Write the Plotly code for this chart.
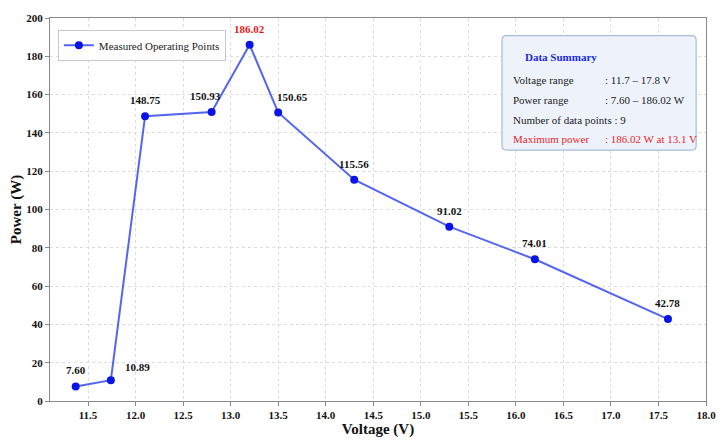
import plotly.graph_objects as go

voltage = [11.37, 11.74, 12.1, 12.8, 13.2, 13.5, 14.3, 15.3, 16.2, 17.6]
power = [7.60, 10.89, 148.75, 150.93, 186.02, 150.65, 115.56, 91.02, 74.01, 42.78]
point_labels = ["7.60", "10.89", "148.75", "150.93", "186.02", "150.65", "115.56", "91.02", "74.01", "42.78"]
x_ticks = [11.5, 12.0, 12.5, 13.0, 13.5, 14.0, 14.5, 15.0, 15.5, 16.0, 16.5, 17.0, 17.5, 18.0]
y_ticks = [0, 20, 40, 60, 80, 100, 120, 140, 160, 180, 200]
summary_labels = ["Voltage range", "Power range", "Number of data points : 9", "Maximum power"]
summary_values = [": 11.7 \u2013 17.8 V", ": 7.60 \u2013 186.02 W", "", ": 186.02 W at 13.1 V"]

FONT = "Liberation Serif"
fig = go.Figure()
fig.add_trace(go.Scatter(
    x=voltage, y=power, mode="lines+markers",
    name="Measured Operating Points",
    line=dict(color="#5566ee", width=2),
    marker=dict(color="#0a14e6", size=8),
))

max_idx = power.index(max(power))
label_shift = {1: (27, -3), 5: (14, 0), 3: (-6, 0)}
for i, (xv, yv, t) in enumerate(zip(voltage, power, point_labels)):
    dx, dy = label_shift.get(i, (0, 0))
    fig.add_annotation(
        x=xv, y=yv, text="<b>%s</b>" % t, showarrow=False,
        yshift=16 + dy, xshift=dx,
        font=dict(family=FONT, size=11, color="#e8171b" if i == max_idx else "#111111"),
    )

# summary box (rounded rectangle)
x0, x1, y0, y1 = 0.689, 0.985, 0.655, 0.954
rx, ry = 0.007, 0.012
path = (f"M {x0+rx},{y0} L {x1-rx},{y0} Q {x1},{y0} {x1},{y0+ry} "
        f"L {x1},{y1-ry} Q {x1},{y1} {x1-rx},{y1} L {x0+rx},{y1} Q {x0},{y1} {x0},{y1-ry} "
        f"L {x0},{y0+ry} Q {x0},{y0} {x0+rx},{y0} Z")
fig.add_shape(type="path", xref="paper", yref="paper", path=path,
              fillcolor="#eef3fb", line=dict(color="#a8bcd8", width=1.2), layer="above")
fig.add_annotation(xref="paper", yref="paper", x=0.837, y=0.919, text="<b>Data Summary</b>",
                   showarrow=False, font=dict(family=FONT, size=11, color="#1a2bdc"))
row_y = [0.859, 0.807, 0.755, 0.705]
for i, (lab, val) in enumerate(zip(summary_labels, summary_values)):
    col = "#e8252a" if i == 3 else "#222222"
    fig.add_annotation(xref="paper", yref="paper", x=0.703, y=row_y[i], text=lab,
                       xanchor="left", showarrow=False, font=dict(family=FONT, size=11, color=col))
    if val:
        fig.add_annotation(xref="paper", yref="paper", x=0.843, y=row_y[i], text=val,
                           xanchor="left", showarrow=False, font=dict(family=FONT, size=11, color=col))

fig.update_layout(
    width=723, height=440,
    margin=dict(l=50, r=17, t=18, b=39),
    paper_bgcolor="white", plot_bgcolor="white",
    font=dict(family=FONT, color="#111111"),
    showlegend=True,
    legend=dict(x=0.012, y=0.969, xanchor="left", yanchor="top",
                bgcolor="white", bordercolor="#c4c8d4", borderwidth=1,
                font=dict(family=FONT, size=11, color="#222222")),
    xaxis=dict(range=[11.1, 18.0], tickvals=x_ticks, automargin=False,
               ticktext=["<b>%.1f</b>" % v for v in x_ticks],
               title=dict(text="<b>Voltage (V)</b>", font=dict(family=FONT, size=15), standoff=2),
               tickfont=dict(family=FONT, size=11),
               showgrid=True, gridcolor="#dddddd", griddash="dot",
               showline=True, linecolor="#888888", mirror=True, linewidth=1.2,
               ticks="outside", ticklen=4, tickcolor="#888888", zeroline=False),
    yaxis=dict(range=[0, 200], tickvals=y_ticks, automargin=False,
               ticktext=["<b>%d</b>" % v for v in y_ticks],
               title=dict(text="<b>Power (W)</b>", font=dict(family=FONT, size=15), standoff=0),
               tickfont=dict(family=FONT, size=11),
               showgrid=True, gridcolor="#dddddd", griddash="dot",
               showline=True, linecolor="#888888", mirror=True, linewidth=1.2,
               ticks="outside", ticklen=4, tickcolor="#888888", zeroline=False),
)
fig.write_html("out.html", config={"displayModeBar": False},
               post_script="document.body.style.margin='0';document.body.style.overflow='hidden';")
